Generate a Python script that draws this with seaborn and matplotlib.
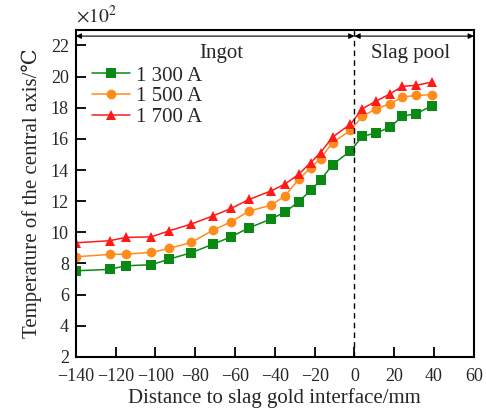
import numpy as np
import pandas as pd
import matplotlib
matplotlib.use("Agg")
import matplotlib.pyplot as plt
import seaborn as sns

# ---- data ----
distance = [-140, -123, -115, -102, -93, -82, -71, -62, -53, -42, -35, -28,
            -22, -17, -11, -2, 4, 11, 18, 24, 31, 39]
temp_1300 = [7.53, 7.62, 7.85, 7.92, 8.28, 8.69, 9.24, 9.71, 10.29, 10.85, 11.29, 11.96,
             12.71, 13.35, 14.35, 15.22, 16.17, 16.38, 16.76, 17.45, 17.62, 18.13]
temp_1500 = [8.43, 8.58, 8.60, 8.71, 8.97, 9.35, 10.14, 10.67, 11.36, 11.74, 12.32, 13.41,
             14.13, 14.74, 15.76, 16.55, 17.45, 17.94, 18.26, 18.69, 18.79, 18.84]
temp_1700 = [9.33, 9.46, 9.67, 9.71, 10.10, 10.53, 11.06, 11.53, 12.11, 12.65, 13.09, 13.73,
             14.48, 15.12, 16.12, 16.94, 17.94, 18.43, 18.90, 19.37, 19.44, 19.65]
series_names = ["1 300 A", "1 500 A", "1 700 A"]
x_ticks = [-140, -120, -100, -80, -60, -40, -20, 0, 20, 40, 60]
y_ticks = [2, 4, 6, 8, 10, 12, 14, 16, 18, 20, 22]

df = pd.DataFrame({
    "x": distance * 3,
    "y": temp_1300 + temp_1500 + temp_1700,
    "series": [series_names[0]] * len(distance) + [series_names[1]] * len(distance)
              + [series_names[2]] * len(distance),
})

sns.set_theme(style="white")
plt.rcParams["font.family"] = ["Liberation Serif", "DejaVu Serif"]
plt.rcParams["mathtext.fontset"] = "stix"

fig = plt.figure(figsize=(4.86, 4.15), dpi=100)
ax = fig.add_axes([0.156, 0.140, 0.819, 0.788])

palette = {series_names[0]: "#0a8a14", series_names[1]: "#ff8c1a", series_names[2]: "#ff1a1a"}
markers = {series_names[0]: "s", series_names[1]: "o", series_names[2]: "^"}
sns.lineplot(data=df, x="x", y="y", hue="series", style="series", palette=palette,
             markers=markers, dashes=False, markersize=7, linewidth=1.1,
             markeredgewidth=0, ax=ax)

ax.set_xlim(-140, 60)
ax.set_ylim(2, 23)
ax.set_xticks(x_ticks)
ax.set_yticks(y_ticks)
ax.set_xticklabels([str(t).replace("-", "\u2212") for t in x_ticks])
ax.tick_params(direction="in", length=7, width=1.3, labelsize=13, color="black",
               top=False, right=False, bottom=True, left=True)
ax.tick_params(axis="x", pad=8)
ax.tick_params(axis="y", pad=5)
for s in ax.spines.values():
    s.set_color("black")
    s.set_linewidth(1.5)

ax.set_xlabel("Distance to slag gold interface/mm", fontsize=15, labelpad=2)
ax.set_ylabel("Temperature of the central axis/℃", fontsize=15, labelpad=6)

ax.axvline(0, color="black", linestyle=(0, (4, 3)), linewidth=1)
ax.annotate("", xy=(-140, 22.6), xytext=(0, 22.6),
            arrowprops=dict(arrowstyle="<|-|>", color="black", lw=0.8,
                            shrinkA=0, shrinkB=0, mutation_scale=8))
ax.annotate("", xy=(0, 22.6), xytext=(60, 22.6),
            arrowprops=dict(arrowstyle="<|-|>", color="black", lw=0.8,
                            shrinkA=0, shrinkB=0, mutation_scale=8))
ax.text(-67, 21.5, "Ingot", fontsize=15, ha="center", va="center")
ax.text(28, 21.5, "Slag pool", fontsize=15, ha="center", va="center")
ax.text(0.0, 1.01, r"$\times 10^2$", transform=ax.transAxes, fontsize=14,
        ha="left", va="bottom")

leg = ax.legend(loc="upper left", bbox_to_anchor=(0.0, 0.94), frameon=False,
                fontsize=15, handlelength=1.8, handletextpad=0.3,
                labelspacing=0.05, borderaxespad=0.4)

fig.savefig("out.png", dpi=100)
